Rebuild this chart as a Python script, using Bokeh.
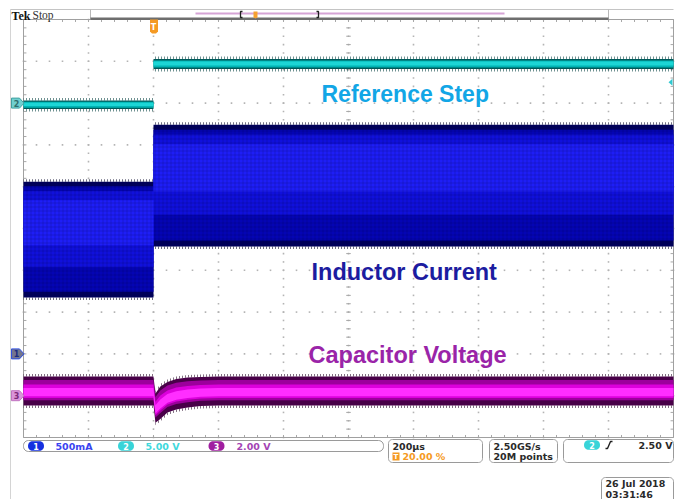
import numpy as np
from bokeh.plotting import figure
from bokeh.models import Range1d
from bokeh.embed import file_html
from bokeh.resources import INLINE
from bokeh.core.properties import value

# ---------------- scope settings ----------------
H_SCALE_US = 200.0      # µs / div
TRIG_POS = 0.20         # trigger position 20 %
N_HDIV = 10
N_VDIV = 10

ch1_scale, ch1_pos = 0.5, -3.0   # Inductor current, A/div, position (div)
ch2_scale, ch2_pos = 5.0, 3.0    # Reference step, V/div
ch3_scale, ch3_pos = 2.0, -4.0   # Capacitor voltage, V/div
trig_level = 2.5                 # V on ch2

# ---------------- waveform envelopes ----------------
step_time = [-400, 0, 0, 1600]                    # µs
ref_upper = [0.31, 0.31, 5.27, 5.27]              # V
ref_lower = [-0.71, -0.71, 4.08, 4.08]            # V
cur_upper = [2.06, 2.06, 2.74, 2.74]              # A
cur_lower = [0.675, 0.675, 1.285, 1.285]          # A
cap_time = [-400, 0, 6, 21, 43, 70, 105, 145, 200, 1600]                     # µs
cap_upper = [0.92, 0.92, 0.10, 0.44, 0.66, 0.80, 0.87, 0.90, 0.92, 0.92]     # V
cap_lower = [-0.47, -0.47, -1.30, -1.11, -0.80, -0.66, -0.57, -0.49, -0.47, -0.47]

labels = ["Reference Step", "Inductor Current", "Capacitor Voltage"]
status_ch = ["500mA", "5.00 V", "2.00 V"]
timebase = "200µs"
trig_pct = "20.00 %"
rate = ["2.50GS/s", "20M points"]
trig_txt = "2.50 V"
date_txt = ["26 Jul  2018", "03:31:46"]

# ---------------- geometry ----------------
W, H = 692, 499
OFF = 0.0
PXX = 65.0          # px per horizontal div
PXY = 41.8          # px per vertical div
GX0 = 23.0          # graticule left (figure px)
GYC = 228.0         # graticule centre (figure px)
X0 = -H_SCALE_US * N_HDIV * TRIG_POS - GX0 / PXX * H_SCALE_US
X1 = X0 + W / PXX * H_SCALE_US
YT = GYC / PXY
YB = -(H - GYC) / PXY
T_L = -H_SCALE_US * N_HDIV * TRIG_POS
T_R = T_L + H_SCALE_US * N_HDIV


def sx(X):  # screen px -> data x
    return X0 + (X - OFF) / PXX * H_SCALE_US


def sy(Y):  # screen px -> data y (div)
    return YT - (Y - OFF) / PXY


p = figure(width=W, height=H, output_backend="svg", toolbar_location=None,
           x_range=Range1d(X0, X1), y_range=Range1d(YB, YT),
           x_axis_type=None, y_axis_type=None, min_border=0)
p.grid.visible = False
p.outline_line_color = None
p.background_fill_color = "white"
p.border_fill_color = "white"

# ---------------- screen frame ----------------
p.segment(x0=[sx(10)], y0=[sy(9)], x1=[sx(10)], y1=[sy(499)], line_color="#D4D4D4", line_width=1)
p.segment(x0=[sx(10)], y0=[sy(9)], x1=[sx(673)], y1=[sy(9)], line_color="#C4C4C4", line_width=1)

# ---------------- graticule ----------------
dots_x, dots_y = [], []
for k in range(1, N_HDIV):
    t = T_L + k * H_SCALE_US
    for j in range(N_VDIV * 5 + 1):
        dots_x.append(t); dots_y.append(-N_VDIV / 2 + j * 0.2)
for k in range(1, N_VDIV):
    yv = -N_VDIV / 2 + k
    for j in range(N_HDIV * 5 + 1):
        dots_x.append(T_L + j * H_SCALE_US / 5); dots_y.append(yv)
p.scatter(dots_x, dots_y, marker="square", size=1.6, fill_color="#B4B4B4", line_color=None)

# centre cross ticks
tx = [T_L + j * H_SCALE_US / 5 for j in range(N_HDIV * 5 + 1)]
p.segment(x0=tx, y0=[-0.05] * len(tx), x1=tx, y1=[0.05] * len(tx), line_color="#A8A8A8", line_width=1)
ty = [-N_VDIV / 2 + j * 0.2 for j in range(N_VDIV * 5 + 1)]
tc = T_L + H_SCALE_US * N_HDIV / 2
p.segment(x0=[tc - 7] * len(ty), y0=ty, x1=[tc + 7] * len(ty), y1=ty, line_color="#A8A8A8", line_width=1)
# border ticks
p.segment(x0=tx, y0=[N_VDIV / 2] * len(tx), x1=tx, y1=[N_VDIV / 2 - 0.06] * len(tx), line_color="#A8A8A8")
p.segment(x0=tx, y0=[-N_VDIV / 2] * len(tx), x1=tx, y1=[-N_VDIV / 2 + 0.06] * len(tx), line_color="#A8A8A8")
p.segment(x0=[T_L] * len(ty), y0=ty, x1=[T_L + 9] * len(ty), y1=ty, line_color="#A8A8A8")
p.segment(x0=[T_R] * len(ty), y0=ty, x1=[T_R - 9] * len(ty), y1=ty, line_color="#A8A8A8")
# border
p.multi_line(xs=[[T_L, T_L, T_R, T_R]], ys=[[N_VDIV / 2, -N_VDIV / 2, -N_VDIV / 2, N_VDIV / 2]],
             line_color="#A0A0A0", line_width=1)
p.segment(x0=[T_L], y0=[N_VDIV / 2], x1=[T_R], y1=[N_VDIV / 2], line_color="#A0A0A0", line_width=1)


# ---------------- waveforms ----------------
def band(t, up, lo, layers, fringe, texture=None):
    t = np.asarray(t, float)
    up = np.asarray(up, float)
    lo = np.asarray(lo, float)
    h = up - lo
    d = 2.5 / PXY
    p.varea(x=t, y1=up, y2=up + d, fill_alpha=0, hatch_pattern="|", hatch_color=fringe,
            hatch_scale=3, hatch_weight=1, hatch_alpha=0.6)
    p.varea(x=t, y1=lo, y2=lo - d, fill_alpha=0, hatch_pattern="|", hatch_color=fringe,
            hatch_scale=3, hatch_weight=1, hatch_alpha=0.6)
    for f0, f1, col in layers:
        p.varea(x=t, y1=up - f0 * h, y2=up - f1 * h, fill_color=col)
    if texture:
        p.varea(x=t, y1=up, y2=lo, fill_alpha=0, hatch_pattern="+", hatch_color=texture,
                hatch_scale=4, hatch_weight=1, hatch_alpha=0.18)


to_div = lambda v, sc, pos: pos + np.asarray(v, float) / sc

band(step_time, to_div(ref_upper, ch2_scale, ch2_pos), to_div(ref_lower, ch2_scale, ch2_pos),
     [(0, 1, "#005A5A"), (0.15, 0.85, "#00B4B4"), (0.25, 0.65, "#1CD6D6")], "#0E4848")
band(step_time, to_div(cur_upper, ch1_scale, ch1_pos), to_div(cur_lower, ch1_scale, ch1_pos),
     [(0, 1, "#00005C"), (0.04, 0.95, "#0404B4"), (0.08, 0.74, "#1010DC"), (0.16, 0.55, "#1E1EF6")],
     "#101030", texture="#000030")
band(cap_time, to_div(cap_upper, ch3_scale, ch3_pos), to_div(cap_lower, ch3_scale, ch3_pos),
     [(0, 1, "#480048"), (0.12, 0.82, "#9C009C"), (0.28, 0.74, "#DC00DC"), (0.4, 0.68, "#FF2EFF")],
     "#301030")

# ---------------- annotations ----------------
big_font = value("Liberation Sans")
p.text(x=[sx(321)], y=[sy(93)], text=[labels[0]], text_color="#12A6E6", text_font=big_font,
       text_font_size="23px", text_font_style="bold", text_baseline="middle")
p.text(x=[sx(311)], y=[sy(271.5)], text=[labels[1]], text_color="#1C1CA0", text_font=big_font,
       text_font_size="23.5px", text_font_style="bold", text_baseline="middle")
p.text(x=[sx(308)], y=[sy(354)], text=[labels[2]], text_color="#9A24A8", text_font=big_font,
       text_font_size="23.5px", text_font_style="bold", text_baseline="middle")


def rrect(x0, y0, x1, y1, r):
    xs, ys = [], []
    for cx, cy, a0 in [(x1 - r, y0 + r, -90), (x1 - r, y1 - r, 0), (x0 + r, y1 - r, 90), (x0 + r, y0 + r, 180)]:
        for a in np.linspace(a0, a0 + 90, 7):
            xs.append(sx(cx + r * np.cos(np.radians(a))))
            ys.append(sy(cy + r * np.sin(np.radians(a))))
    return xs, ys


def poly(pts):
    return [sx(a) for a, b in pts], [sy(b) for a, b in pts]


# top bar
p.segment(x0=[sx(90), sx(608)], y0=[sy(9), sy(9)], x1=[sx(90), sx(608)], y1=[sy(19), sy(19)],
          line_color="#B8B8B8", line_width=1)
p.segment(x0=[sx(90)], y0=[sy(18.2)], x1=[sx(608)], y1=[sy(18.2)], line_color="#6E6E6E", line_width=2.5)
p.segment(x0=[sx(195)], y0=[sy(13)], x1=[sx(504)], y1=[sy(13)], line_color="#D6A4D6", line_width=2)
p.multi_line(xs=[[sx(242), sx(240), sx(240), sx(242)], [sx(316), sx(318), sx(318), sx(316)]],
             ys=[[sy(11), sy(11), sy(17), sy(17)]] * 2, line_color="#202020", line_width=1.3)
bx, by = poly([(253, 11), (257, 11), (257, 17), (255, 18), (253, 17)])
p.patch(bx, by, fill_color="#F5A030", line_color=None)
p.text(x=[sx(11)], y=[sy(15)], text=["Tek"], text_font=value("Liberation Serif"), text_font_size="12px",
       text_font_style="bold", text_color="#111111", text_baseline="middle")
p.text(x=[sx(32)], y=[sy(14.5)], text=["Stop"], text_font=value("Liberation Serif"), text_font_size="11.5px",
       text_color="#333333", text_baseline="middle")

# trigger position marker
tx_, ty_ = poly([(149.5, 19), (157.5, 19), (157.5, 31), (155.5, 33), (151.5, 33), (149.5, 31)])
p.patch(tx_, ty_, fill_color="#F59A23", line_color=None)
p.text(x=[0], y=[sy(26.5)], text=["T"], text_font=value("DejaVu Sans"), text_font_size="8px",
       text_font_style="bold", text_color="white", text_align="center", text_baseline="middle")


# channel ground markers
def ymark(div):
    return OFF + (YT - div) * PXY


for pos, fc, lc, lab, tc_ in [(ch2_pos, "#70CFCF", "#40A0A0", "2", "#2E6E6E"),
                              (ch1_pos, "#74768E", "#2F50E0", "1", "#1A2A80"),
                              (ch3_pos, "#DA94DA", "#C074C0", "3", "#7A2A7A")]:
    yc = ymark(pos)
    mx, my = poly([(11, yc - 5), (19, yc - 5), (23.5, yc), (19, yc + 5), (11, yc + 5)])
    p.patch(mx, my, fill_color=fc, line_color=lc, line_width=1)
    p.text(x=[sx(16)], y=[pos], text=[lab], text_font=value("DejaVu Sans"), text_font_size="8px",
           text_font_style="bold", text_color=tc_, text_align="center", text_baseline="middle")

# trigger level marker (right)
yl = ymark(ch2_pos + trig_level / ch2_scale)
lx, ly = poly([(668, yl), (672, yl - 3.5), (672, yl + 3.5)])
p.patch(lx, ly, fill_color="#30C8D0", line_color=None)

# status boxes
for (a, b, c, d, r) in [(23, 440, 383, 451, 5), (388, 439, 482, 462, 4), (489, 439, 557, 462, 4),
                        (563, 439, 673, 462, 4), (601, 477, 673, 505, 4)]:
    xs, ys = rrect(a, b, c, d, r)
    p.patch(xs, ys, fill_color="white", line_color="#9A9A9A", line_width=1)

ovals = [(35.5, 445.5, "#1530E0", "1"), (125.5, 445.5, "#38D4D8", "2"), (216, 445.5, "#A01EA0", "3"),
         (591.5, 444.5, "#38D4D8", "2")]
for cx, cy, col, lab in ovals:
    xs, ys = rrect(cx - 8, cy - 4.8, cx + 8, cy + 4.8, 4.7)
    p.patch(xs, ys, fill_color=col, line_color=None)
    p.text(x=[sx(cx)], y=[sy(cy)], text=[lab], text_font=value("DejaVu Sans"), text_font_size="8px",
           text_font_style="bold", text_color="white", text_align="center", text_baseline="middle")

sfont = value("DejaVu Sans")
for xx, yy, txt, col in [(55, 445.5, status_ch[0], "#3A44F0"), (145, 445.5, status_ch[1], "#40D8DC"),
                         (236, 445.5, status_ch[2], "#A444B4"),
                         (392, 445.5, timebase, "#2A2A2A"), (402, 456, trig_pct, "#F59A23"),
                         (493, 445.5, rate[0], "#2A2A2A"), (493, 456, rate[1], "#2A2A2A"),
                         (605, 483, date_txt[0], "#2A2A2A"), (605, 493.5, date_txt[1], "#2A2A2A")]:
    p.text(x=[sx(xx)], y=[sy(yy)], text=[txt], text_font=sfont, text_font_size="9.5px",
           text_font_style="bold", text_color=col, text_baseline="middle")
p.text(x=[sx(672)], y=[sy(444.5)], text=[trig_txt], text_font=sfont, text_font_size="9.5px",
       text_font_style="bold", text_color="#2A2A2A", text_baseline="middle", text_align="right")
ix, iy = poly([(392, 452), (399, 452), (399, 460), (392, 460)])
p.patch(ix, iy, fill_color="#F59A23", line_color=None)
p.text(x=[sx(395.5)], y=[sy(456)], text=["T"], text_font=sfont, text_font_size="7px",
       text_font_style="bold", text_color="white", text_align="center", text_baseline="middle")
p.multi_line(xs=[[sx(605), sx(607), sx(610), sx(612)]], ys=[[sy(448), sy(448), sy(441), sy(441)]],
             line_color="#202020", line_width=1.4)

open("out.html", "w").write(file_html(p, INLINE))
